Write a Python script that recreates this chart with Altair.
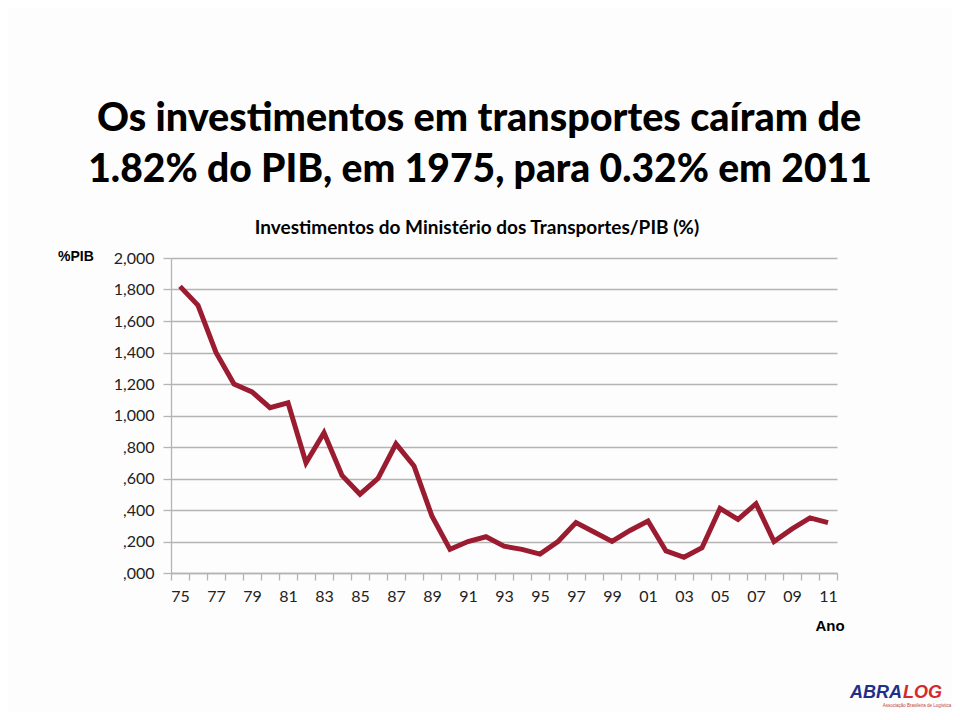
import altair as alt
import pandas as pd

# ---- data ----
years = list(range(1975, 2012))
values = [1.82, 1.70, 1.40, 1.20, 1.15, 1.05, 1.08, 0.70, 0.89, 0.62,
          0.50, 0.60, 0.82, 0.68, 0.36, 0.15, 0.20, 0.23, 0.17, 0.15,
          0.12, 0.20, 0.32, 0.26, 0.20, 0.27, 0.33, 0.14, 0.10, 0.16,
          0.41, 0.34, 0.44, 0.20, 0.28, 0.35, 0.32]
y_ticks = [0.0, 0.2, 0.4, 0.6, 0.8, 1.0, 1.2, 1.4, 1.6, 1.8, 2.0]
x_bounds = [y - 0.5 for y in years] + [years[-1] + 0.5]

title_lines = ["Os investimentos em transportes caíram de",
               "1.82% do PIB, em 1975, para 0.32% em 2011"]
subtitle = "Investimentos do Ministério dos Transportes/PIB (%)"
y_title = "%PIB"
x_title = "Ano"

df = pd.DataFrame({"year": years, "value": values})

FONT = "Lato"
GRAY = "#b4b4b4"

line = alt.Chart(df).mark_line(color="#9B1B30", strokeWidth=5, strokeJoin="miter").encode(
    x=alt.X("year:Q",
            scale=alt.Scale(domain=[1974.5, 2011.5], nice=False, zero=False),
            axis=alt.Axis(values=x_bounds, grid=False, title=None,
                          tickSize=7, tickColor=GRAY, tickWidth=1.3,
                          domainColor=GRAY, domainWidth=1.3,
                          labelOffset=9, labelFlush=False, labelOverlap=False,
                          labelBound=False, labelPadding=8,
                          labelFont=FONT, labelFontSize=16, labelColor="#222222",
                          labelExpr="((datum.value + 0.5) % 2 == 1) ? pad(toString((datum.value + 0.5) % 100), 2, '0', 'left') : ''")),
    y=alt.Y("value:Q",
            scale=alt.Scale(domain=[0, 2], nice=False),
            axis=alt.Axis(values=y_ticks, title=None, grid=True,
                          gridColor=GRAY, gridWidth=1.3,
                          tickSize=8, tickColor=GRAY, tickWidth=1.3,
                          domainColor=GRAY, domainWidth=1.3,
                          labelPadding=9, labelFont=FONT, labelFontSize=16,
                          labelColor="#222222", labelOverlap=False,
                          labelExpr="datum.value < 1 ? substring(replace(format(datum.value, '.3f'), '.', ','), 1) : replace(format(datum.value, '.3f'), '.', ',')")),
)


def label(text, x, y, size, font=FONT, weight="bold", align="center", color="#000000", style="normal"):
    return alt.Chart(pd.DataFrame({"t": [text]})).mark_text(
        font=font, fontSize=size, fontWeight=weight, align=align,
        baseline="alphabetic", color=color, fontStyle=style,
    ).encode(text="t:N", x=alt.value(x), y=alt.value(y))


layers = [
    line,
    label(title_lines[0], 308, -127, 39.5, weight=900),
    label(title_lines[1], 309, -76, 39, weight=900),
    label(subtitle, 306, -24, 19),
    label(y_title, -113, 3, 14, font="Liberation Sans", align="left"),
    label(x_title, 659, 373, 15, font="Liberation Sans"),
    label("ABRA", 679, 440, 18, font="Liberation Sans", align="left", color="#1f2f8a", style="italic"),
    label("LOG", 732, 440, 18, font="Liberation Sans", align="left", color="#d42a2a", style="italic"),
    label("Associação Brasileira de Logística", 746, 449, 4.5, font="Liberation Sans", weight="normal", color="#c04040"),
]

chart = alt.layer(*layers).properties(
    width=666, height=315,
    autosize=alt.AutoSizeParams(type="none"),
    padding={"left": 163, "top": 250, "right": 115, "bottom": 139},
    background="#fdfdfd",
).configure_view(stroke=None)

chart.save("out.html", embed_options={"renderer": "svg", "actions": False})
